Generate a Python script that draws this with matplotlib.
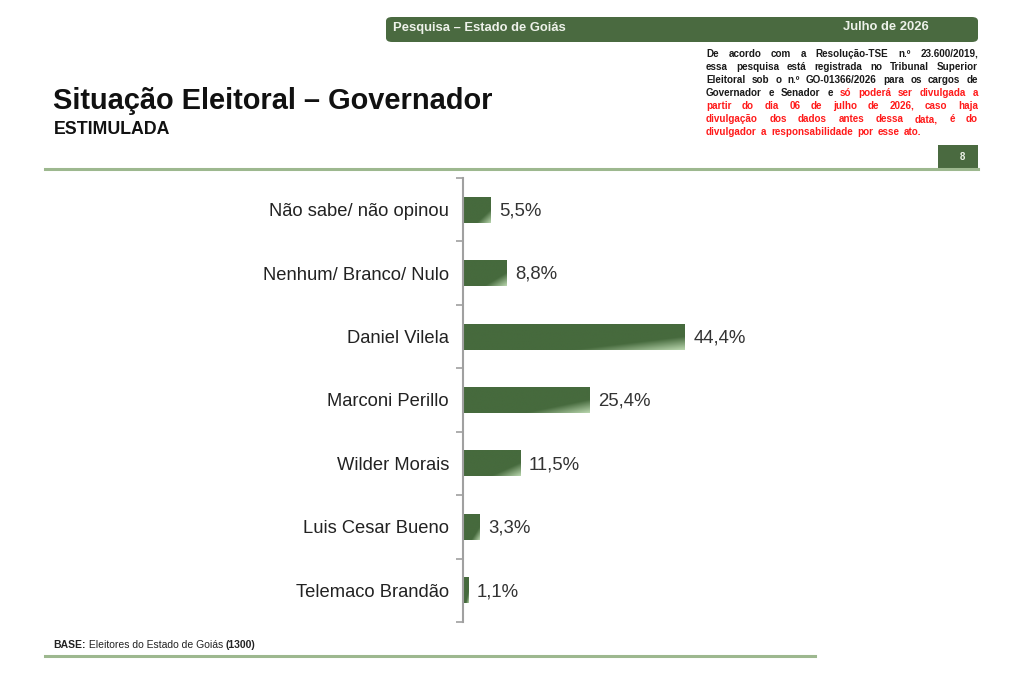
import numpy as np
import matplotlib
matplotlib.use("Agg")
import matplotlib.pyplot as plt
from matplotlib.patches import FancyBboxPatch, Rectangle
from matplotlib.colors import to_rgb

# ---- DATA ----
categories = [
    "Não sabe/ não opinou",
    "Nenhum/ Branco/ Nulo",
    "Daniel Vilela",
    "Marconi Perillo",
    "Wilder Morais",
    "Luis Cesar Bueno",
    "Telemaco Brandão",
]
values = [5.5, 8.8, 44.4, 25.4, 11.5, 3.3, 1.1]

title = "Situação Eleitoral – Governador"
subtitle = "ESTIMULADA"
header_left = "Pesquisa – Estado de Goiás"
header_right = "Julho de 2026"
page_number = "8"

# (text, is_red) per line of the legal note
note_lines = [
    [("De acordo com a Resolução-TSE n.º 23.600/2019,", False)],
    [("essa pesquisa está registrada no Tribunal Superior", False)],
    [("Eleitoral sob o n.º GO-01366/2026 para os cargos de", False)],
    [("Governador e Senador e", False), ("só poderá ser divulgada a", True)],
    [("partir do dia 06 de julho de 2026, caso haja", True)],
    [("divulgação dos dados antes dessa data, é do", True)],
    [("divulgador a responsabilidade por esse ato.", True)],
]
base_parts = [("BASE:", "bold"), (" Eleitores do Estado de Goiás ", "normal"), ("(1300)", "bold")]

# ---- STYLE ----
DARK = "#466a3d"
LIGHT = "#b9d6ae"
HEADER_GREEN = "#4a6a40"
RULE_GREEN = "#9db88f"
RED = "#ff1a1a"

plt.rcParams["font.family"] = ["Liberation Sans", "DejaVu Sans"]

W, H = 1024, 683
fig = plt.figure(figsize=(W / 100, H / 100), dpi=100)
renderer = fig.canvas.get_renderer()


def fx(x):
    return x / W


def fy(y):
    return 1 - y / H


def text_width(s, **kw):
    t = fig.text(0, 0, s, **kw)
    w = t.get_window_extent(renderer).width
    t.remove()
    return w


# ---- HEADER ----
fig.patches.append(FancyBboxPatch((fx(386), fy(42)), fx(978) - fx(386), fy(17) - fy(42),
                                  boxstyle="round,pad=0,rounding_size=0.006",
                                  transform=fig.transFigure, facecolor=HEADER_GREEN,
                                  edgecolor="none"))
fig.text(fx(393), fy(30.5), header_left, color="#eef2ea", fontsize=9.4,
         fontweight="bold", va="baseline")
fig.text(fx(843), fy(30.5), header_right, color="#eef2ea", fontsize=9.4,
         fontweight="bold", va="baseline")

# ---- LEGAL NOTE (justified) ----
note_kw = dict(fontsize=7.1, fontweight="bold")
left_px, right_px = 706, 978
for i, line in enumerate(note_lines):
    words = [(w, red) for part, red in line for w in part.split()]
    widths = [text_width(w, **note_kw) for w, _ in words]
    total = right_px - left_px
    last = i == len(note_lines) - 1
    if last:
        gap = text_width(" ", **note_kw) * 1.6
    else:
        gap = (total - sum(widths)) / (len(words) - 1)
    x = left_px
    y = 54 + i * 13
    for (w, red), wd in zip(words, widths):
        fig.text(fx(x), fy(y), w, color=RED if red else "#1a1a1a", va="center", **note_kw)
        x += wd + gap

# ---- TITLE ----
fig.text(fx(53), fy(101), title, fontsize=20.9, fontweight="bold", va="center", color="#111111")
fig.text(fx(54), fy(129), subtitle, fontsize=12.8, fontweight="bold", va="center", color="#111111")

# rules
fig.lines.append(plt.Line2D([fx(45), fx(978)], [fy(169), fy(169)], transform=fig.transFigure,
                            color=RULE_GREEN, lw=2.2))
fig.lines.append(plt.Line2D([fx(45), fx(815)], [fy(656), fy(656)], transform=fig.transFigure,
                            color=RULE_GREEN, lw=2.2))

# page number box
fig.patches.append(Rectangle((fx(938), fy(170)), fx(978) - fx(938), fy(145) - fy(170),
                             transform=fig.transFigure, facecolor=HEADER_GREEN, edgecolor="none"))
fig.text(fx(962), fy(157), page_number, color="#eef2ea", fontsize=7, fontweight="bold",
         ha="center", va="center")

# ---- BAR CHART ----
ax = fig.add_axes([fx(463), fy(622), fx(763) - fx(463), fy(178) - fy(622)])
y = np.arange(len(categories))
bar_h = 0.41
bars = ax.barh(y, values, height=bar_h, color=DARK, edgecolor="none")

# diagonal gradient towards the lower right corner of each bar
c0, c1 = np.array(to_rgb(DARK)), np.array(to_rgb(LIGHT))
u = np.linspace(0, 1, 200)[None, :]
v = np.linspace(0, 1, 40)[:, None]
s = np.clip((u + v - 1.5) / 0.5, 0, 1)
img = c0 + (c1 - c0) * s[..., None]
for bar, yi, val in zip(bars, y, values):
    im = ax.imshow(img, extent=(0, val, yi + bar_h / 2, yi - bar_h / 2), origin="upper",
                   aspect="auto", interpolation="bilinear", zorder=2)
    im.set_clip_path(bar)
    ax.text(val + 1.7, yi + 0.02, f"{val:.1f}%".replace(".", ","), va="center", ha="left",
            fontsize=13.4, color="#333333")

ax.set_xlim(0, 60)
ax.set_ylim(len(categories) - 0.5, -0.5)
ax.set_yticks(y)
ax.set_yticklabels(categories, fontsize=13.2, color="#222222")
ax.tick_params(axis="y", which="major", length=0, pad=10)
ax.set_yticks(np.arange(len(categories) + 1) - 0.5, minor=True)
ax.tick_params(axis="y", which="minor", length=5, width=1.2, color="#a0a0a0", direction="out")
ax.set_xticks([])
for side in ["top", "right", "bottom"]:
    ax.spines[side].set_visible(False)
ax.spines["left"].set_color("#a0a0a0")
ax.spines["left"].set_linewidth(1.5)
ax.patch.set_alpha(0)

# ---- BASE NOTE ----
x = 53
for part, weight in base_parts:
    kw = dict(fontsize=7.5, fontweight=weight, color="#222222")
    fig.text(fx(x), fy(645), part, va="center", **kw)
    x += text_width(part, **kw)

fig.savefig("out.png", dpi=100)
